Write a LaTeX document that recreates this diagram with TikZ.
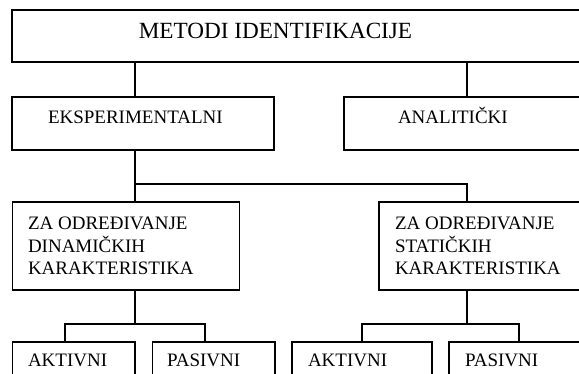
\documentclass[tikz,border=0pt]{standalone}
\usepackage{fontspec}
\setmainfont{Liberation Serif}
\begin{document}
\begin{tikzpicture}[x=1pt,y=-1pt,
  box/.style={draw=black,line width=1.6pt,rectangle,inner sep=0pt,outer sep=0pt,anchor=north west},
  conn/.style={draw=black,line width=1.6pt},
  body/.style={inner sep=0pt,outer sep=0pt,font=\fontsize{19}{22.5}\selectfont,align=left},
  titlefont/.style={inner sep=0pt,outer sep=0pt,font=\fontsize{23.2}{27}\selectfont}]
\useasboundingbox (0,0) rectangle (579,374);
\fill[white] (0,0) rectangle (579,374);
\clip (0,0) rectangle (579,374);
% boxes
\node[box,minimum width=608pt,minimum height=52pt] (top) at (12,10) {};
\node[box,minimum width=262pt,minimum height=53pt] (eksp) at (12,97) {};
\node[box,minimum width=300pt,minimum height=53pt] (anal) at (344,97) {};
\node[box,minimum width=227pt,minimum height=88pt] (za1) at (12.5,202) {};
\node[box,minimum width=260pt,minimum height=88pt] (za2) at (379,202) {};
\node[box,minimum width=122.5pt,minimum height=60pt] (ak1) at (12.5,342) {};
\node[box,minimum width=122.5pt,minimum height=60pt] (pa1) at (152.5,342) {};
\node[box,minimum width=140pt,minimum height=60pt] (ak2) at (292,342) {};
\node[box,minimum width=170pt,minimum height=60pt] (pa2) at (449,342) {};
% texts
\node[titlefont,anchor=base] (ttop) at (275.5,39) {METODI IDENTIFIKACIJE};
\node[body,anchor=base west] (teksp) at (48,124) {EKSPERIMENTALNI};
\node[body,anchor=base west] (tanal) at (398,124) {ANALITIČKI};
\node[body,anchor=north west] (tza1) at (28,217.4) {ZA ODREĐIVANJE\\DINAMIČKIH\\KARAKTERISTIKA};
\node[body,anchor=north west] (tza2) at (395,217.4) {ZA ODREĐIVANJE\\STATIČKIH\\KARAKTERISTIKA};
\node[body,anchor=base west] (tak1) at (28,366.7) {AKTIVNI};
\node[body,anchor=base west] (tpa1) at (167,366.7) {PASIVNI};
\node[body,anchor=base west] (tak2) at (308,366.7) {AKTIVNI};
\node[body,anchor=base west] (tpa2) at (465,366.7) {PASIVNI};
% connector coordinates
\coordinate (xa) at (135,0);
\coordinate (xb) at (467,0);
\coordinate (j1) at (135,184);
\coordinate (j2) at (135,324);
\coordinate (j3) at (467,324);
\coordinate (h1) at (65,324);
\coordinate (h2) at (205,324);
\coordinate (h3) at (362,324);
\coordinate (h4) at (519,324);
% connectors
\draw[conn] (top.south -| xa) -- (eksp.north -| xa);
\draw[conn] (top.south -| xb) -- (anal.north -| xb);
\draw[conn] (eksp.south -| xa) -- (za1.north -| xa);
\draw[conn] (j1) -| (za2.north -| xb);
\draw[conn] (za1.south -| xa) -- (j2);
\draw[conn] (ak1.north -| h1) -- (h1) -- (h2) -- (pa1.north -| h2);
\draw[conn] (za2.south -| xb) -- (j3);
\draw[conn] (ak2.north -| h3) -- (h3) -- (h4) -- (pa2.north -| h4);
\end{tikzpicture}
\end{document}
